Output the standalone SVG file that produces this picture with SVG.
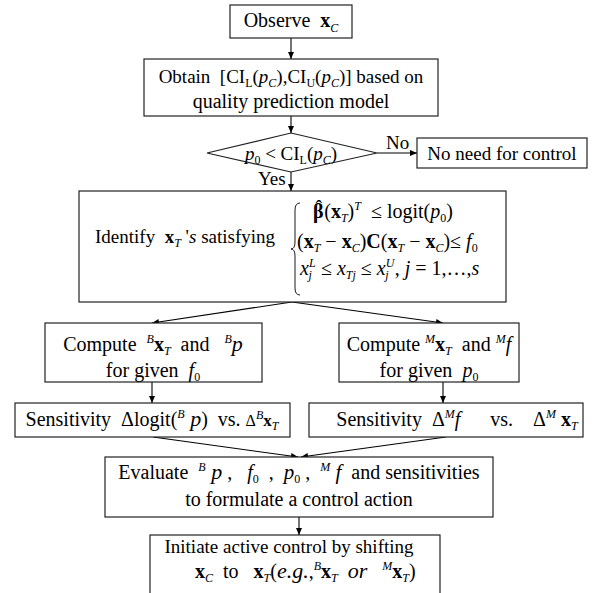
<svg xmlns="http://www.w3.org/2000/svg" width="593" height="593" viewBox="0 0 593 593" xml:space="preserve">
<defs>
<marker id="ah" markerUnits="userSpaceOnUse" markerWidth="8" markerHeight="8" refX="7" refY="3" orient="auto">
<path d="M0,0 L7,3 L0,6 z" fill="#000"/>
</marker>
<style>
.box{fill:#fff;stroke:#222;stroke-width:1.2}
.t{font-family:"Liberation Serif","Times New Roman",serif;font-size:20px;fill:#000;white-space:pre}
.n{font-size:19px}
.m{text-anchor:middle}
.b{font-weight:bold}
.i{font-style:italic}
.s{font-size:12px}
.c line{stroke:#000;stroke-width:1.1;marker-end:url(#ah)}
</style>
</defs>
<rect width="593" height="593" fill="#fff"/>
<g id="connectors" class="c">
<line x1="291" y1="38" x2="291" y2="59"/>
<line x1="291" y1="116" x2="291" y2="133"/>
<line x1="377" y1="153" x2="417" y2="153"/>
<line x1="291" y1="172" x2="291" y2="191"/>
<line x1="292" y1="302" x2="152" y2="323"/>
<line x1="292" y1="302" x2="443" y2="323"/>
<line x1="152" y1="382" x2="152" y2="403"/>
<line x1="443" y1="382" x2="443" y2="403"/>
<line x1="153" y1="437" x2="298" y2="457"/>
<line x1="446" y1="437" x2="301" y2="457"/>
<line x1="299" y1="517" x2="299" y2="535"/>
</g>
<g id="observe">
<rect class="box" x="230" y="5" width="122" height="33"/>
<text class="t m" x="291" y="27">Observe  <tspan class="b">x</tspan><tspan class="s i" dy="5">C</tspan></text>
</g>
<g id="obtain">
<rect class="box" x="144" y="59" width="294" height="57"/>
<text class="t n m" x="291" y="83">Obtain  [CI<tspan class="s" dy="4">L</tspan><tspan dy="-4">(</tspan><tspan class="i">p</tspan><tspan class="s i" dy="4">C</tspan><tspan dy="-4">),CI</tspan><tspan class="s" dy="4">U</tspan><tspan dy="-4">(</tspan><tspan class="i">p</tspan><tspan class="s i" dy="4">C</tspan><tspan dy="-4">)] based on</tspan></text>
<text class="t m" x="291" y="108">quality prediction model</text>
</g>
<g id="decision">
<polygon class="box" points="291,133 377,153 291,172 207,153"/>
<text class="t n m" x="291" y="160"><tspan class="i">p</tspan><tspan class="s" dy="4">0</tspan><tspan dy="-4"> &lt; CI</tspan><tspan class="s" dy="4">L</tspan><tspan dy="-4">(</tspan><tspan class="i">p</tspan><tspan class="s i" dy="4">C</tspan><tspan dy="-4">)</tspan></text>
<text class="t n" x="386" y="149">No</text>
<text class="t n" x="258" y="185">Yes</text>
</g>
<g id="noneed">
<rect class="box" x="417" y="138" width="170" height="30"/>
<text class="t n m" x="502" y="160">No need for control</text>
</g>
<g id="identify">
<rect class="box" x="79" y="191" width="427" height="111"/>
<text class="t n" x="95" y="243">Identify  <tspan class="b">x</tspan><tspan class="s i" dy="4">T</tspan><tspan dy="-4"> '</tspan><tspan class="i">s</tspan> satisfying</text>
<path d="M300,203 Q295,203 295,210 L295,242 Q295,249 291,249 Q295,249 295,256 L295,288 Q295,295 300,295" fill="none" stroke="#000" stroke-width="0.9"/>
<text class="t" x="313" y="218"><tspan class="b">β</tspan><tspan dx="-8" dy="-3">ˆ</tspan><tspan dx="2" dy="3">(</tspan><tspan class="b">x</tspan><tspan class="s i" dy="4">T</tspan><tspan dy="-4">)</tspan><tspan class="s i" dy="-8">T</tspan><tspan dy="8">  ≤ logit(</tspan><tspan class="i">p</tspan><tspan class="s" dy="4">0</tspan><tspan dy="-4">)</tspan></text>
<text class="t" x="297" y="248">(<tspan class="b">x</tspan><tspan class="s i" dy="4">T</tspan><tspan dy="-4"> − </tspan><tspan class="b">x</tspan><tspan class="s i" dy="4">C</tspan><tspan dy="-4">)</tspan><tspan class="b">C</tspan>(<tspan class="b">x</tspan><tspan class="s i" dy="4">T</tspan><tspan dy="-4"> − </tspan><tspan class="b">x</tspan><tspan class="s i" dy="4">C</tspan><tspan dy="-4">)≤ </tspan><tspan class="i">f</tspan><tspan class="s" dy="4">0</tspan></text>
<text class="t" x="300" y="275"><tspan class="i">x</tspan><tspan class="s i" dy="-8">L</tspan><tspan class="s i" dx="-7" dy="12">j</tspan><tspan dx="4" dy="-4"> ≤ </tspan><tspan class="i">x</tspan><tspan class="s i" dy="4">Tj</tspan><tspan dy="-4"> ≤ </tspan><tspan class="i">x</tspan><tspan class="s i" dy="-8">U</tspan><tspan class="s i" dx="-9" dy="12">j</tspan><tspan dx="6" dy="-4">, </tspan><tspan class="i">j</tspan> = 1,…,<tspan class="i">s</tspan></text>
</g>
<g id="computeB">
<rect class="box" x="45" y="323" width="217" height="59"/>
<text class="t m" x="153" y="351">Compute  <tspan class="s i" dy="-8">B</tspan><tspan class="b" dy="8">x</tspan><tspan class="s i" dy="4">T</tspan><tspan dy="-4">  and   </tspan><tspan class="s i" dy="-8">B</tspan><tspan class="i" dy="8" font-size="22">p</tspan></text>
<text class="t m" x="153" y="377">for given  <tspan class="i">f</tspan><tspan class="s" dy="4">0</tspan></text>
</g>
<g id="computeM">
<rect class="box" x="339" y="323" width="180" height="59"/>
<text class="t m" x="429" y="351">Compute <tspan class="s i" dy="-8">M</tspan><tspan class="b" dy="8">x</tspan><tspan class="s i" dy="4">T</tspan><tspan dy="-4">  and </tspan><tspan class="s i" dy="-8">M</tspan><tspan class="i" dy="8">f</tspan></text>
<text class="t m" x="429" y="377">for given  <tspan class="i">p</tspan><tspan class="s" dy="4">0</tspan></text>
</g>
<g id="sensB">
<rect class="box" x="15" y="403" width="275" height="34"/>
<text class="t m" x="152" y="426">Sensitivity  Δlogit(<tspan class="s i" dy="-8">B</tspan><tspan class="i" dy="8" font-size="22"> p</tspan>)  vs. <tspan font-size="16">Δ</tspan><tspan class="s i" dy="-7">B</tspan><tspan class="b" dy="7" font-size="17">x</tspan><tspan class="s i" dy="4" font-size="10">T</tspan></text>
</g>
<g id="sensM">
<rect class="box" x="309" y="403" width="274" height="34"/>
<text class="t m" x="457" y="426">Sensitivity  Δ<tspan class="s i" dy="-8">M</tspan><tspan class="i" dy="8">f</tspan>      vs.    Δ<tspan class="s i" dy="-8">M</tspan><tspan class="b" dy="8"> x</tspan><tspan class="s i" dy="4" font-size="10">T</tspan></text>
</g>
<g id="evaluate">
<rect class="box" x="105" y="457" width="388" height="60"/>
<text class="t m" x="299" y="479">Evaluate  <tspan class="s i" dy="-8">B</tspan><tspan class="i" dy="8" font-size="22"> p</tspan> ,   <tspan class="i">f</tspan><tspan class="s" dy="4">0</tspan><tspan dy="-4">  ,  </tspan><tspan class="i" font-size="21">p</tspan><tspan class="s" dy="4">0</tspan><tspan dy="-4"> ,  </tspan><tspan class="s i" dy="-8">M</tspan><tspan class="i" dy="8" font-size="21"> f</tspan>  and sensitivities</text>
<text class="t m" x="299" y="506">to formulate a control action</text>
</g>
<g id="initiate">
<rect class="box" x="150" y="535" width="290" height="70"/>
<text class="t n m" x="289" y="553">Initiate active control by shifting</text>
<text class="t" x="195" y="578"><tspan class="b">x</tspan><tspan class="s i" dy="4">C</tspan><tspan dy="-4">  to   </tspan><tspan class="b">x</tspan><tspan class="s i" dy="4">T</tspan><tspan dy="-4">(</tspan><tspan class="i" font-size="22">e.g.</tspan>,<tspan class="s i" dy="-8">B</tspan><tspan class="b" dy="8">x</tspan><tspan class="s i" dy="4">T</tspan><tspan dy="-4">  </tspan><tspan class="i" font-size="22">or</tspan>   <tspan class="s i" dy="-8">M</tspan><tspan class="b" dy="8">x</tspan><tspan class="s i" dy="4">T</tspan><tspan dy="-4">)</tspan></text>
</g>
</svg>
